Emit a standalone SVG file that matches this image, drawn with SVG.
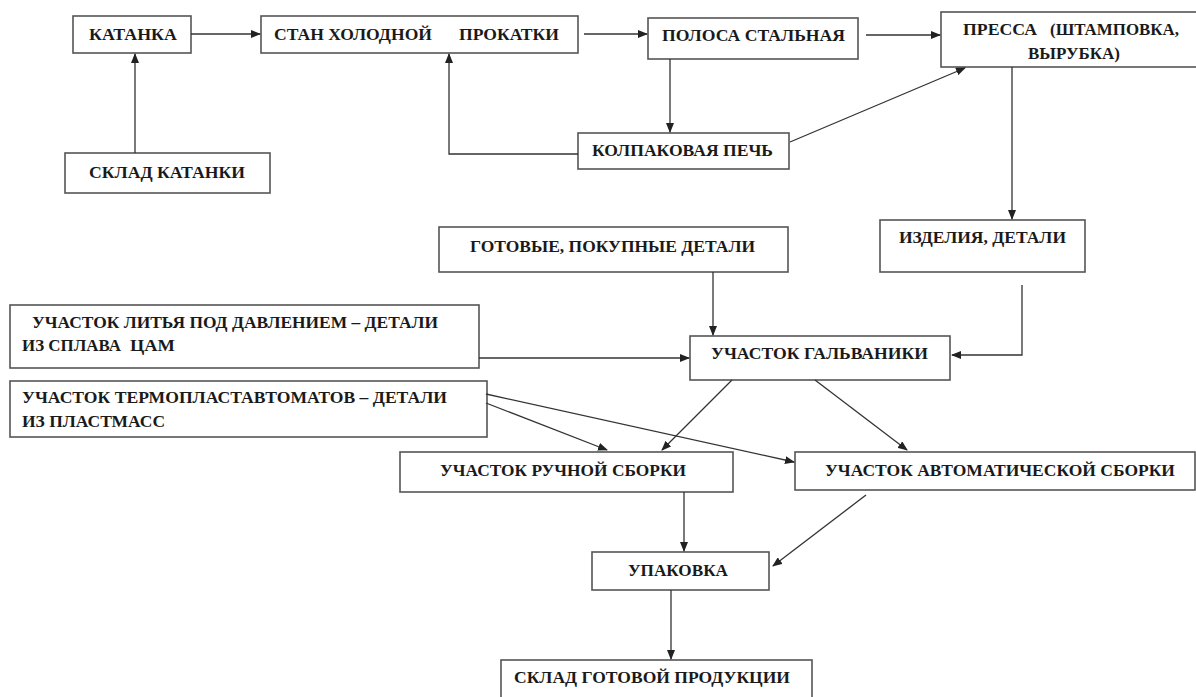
<svg xmlns="http://www.w3.org/2000/svg" width="1196" height="697" viewBox="0 0 1196 697">
<defs>
<marker id="ah" markerWidth="10" markerHeight="8" refX="9" refY="4" orient="auto" markerUnits="userSpaceOnUse">
<path d="M0,0 L10,4 L0,8 Z" fill="#222"/>
</marker>
<style>
.box{fill:#fff;stroke:#555;stroke-width:1.6}
.t{font-family:"Liberation Serif","Times New Roman",serif;font-weight:bold;font-size:17px;fill:#1a1a1a}
.c{fill:none;stroke:#333;stroke-width:1.3;marker-end:url(#ah)}
</style>
</defs>
<rect width="1196" height="697" fill="#fff"/>
<g id="katanka"><rect class="box" x="73" y="16" width="118" height="37"/><text class="t" x="89" y="40" textLength="88" lengthAdjust="spacingAndGlyphs">КАТАНКА</text></g>
<g id="stan"><rect class="box" x="261" y="16" width="317" height="37"/><text class="t" y="40"><tspan x="274" textLength="158" lengthAdjust="spacingAndGlyphs">СТАН ХОЛОДНОЙ</tspan><tspan x="459" textLength="100" lengthAdjust="spacingAndGlyphs">ПРОКАТКИ</tspan></text></g>
<g id="polosa"><rect class="box" x="648" y="18" width="210" height="41"/><text class="t" x="662" y="41" textLength="183" lengthAdjust="spacingAndGlyphs">ПОЛОСА СТАЛЬНАЯ</text></g>
<g id="pressa"><rect class="box" x="941" y="12" width="260" height="55"/><text class="t" y="35"><tspan x="963" textLength="74" lengthAdjust="spacingAndGlyphs">ПРЕССА</tspan><tspan x="1050" textLength="129" lengthAdjust="spacingAndGlyphs">(ШТАМПОВКА,</tspan></text><text class="t" x="1028" y="59" textLength="92" lengthAdjust="spacingAndGlyphs">ВЫРУБКА)</text></g>
<g id="sklad-katanki"><rect class="box" x="65" y="153" width="205" height="40"/><text class="t" x="89" y="178" textLength="156" lengthAdjust="spacingAndGlyphs">СКЛАД КАТАНКИ</text></g>
<g id="kolpak"><rect class="box" x="578" y="133" width="211" height="36"/><text class="t" x="592" y="156" textLength="181" lengthAdjust="spacingAndGlyphs">КОЛПАКОВАЯ ПЕЧЬ</text></g>
<g id="gotovye"><rect class="box" x="439" y="227" width="349" height="45"/><text class="t" x="470" y="252" textLength="285" lengthAdjust="spacingAndGlyphs">ГОТОВЫЕ, ПОКУПНЫЕ ДЕТАЛИ</text></g>
<g id="izdelia"><rect class="box" x="880" y="220" width="205" height="52"/><text class="t" x="899" y="243" textLength="167" lengthAdjust="spacingAndGlyphs">ИЗДЕЛИЯ, ДЕТАЛИ</text></g>
<g id="galvanika"><rect class="box" x="690" y="336" width="260" height="44"/><text class="t" x="711" y="359" textLength="217" lengthAdjust="spacingAndGlyphs">УЧАСТОК ГАЛЬВАНИКИ</text></g>
<g id="litye"><rect class="box" x="10" y="305" width="469" height="63"/><text class="t" x="32" y="328" textLength="406" lengthAdjust="spacingAndGlyphs">УЧАСТОК ЛИТЬЯ ПОД ДАВЛЕНИЕМ – ДЕТАЛИ</text><text class="t" y="351"><tspan x="22" textLength="99" lengthAdjust="spacingAndGlyphs">ИЗ СПЛАВА</tspan><tspan x="130" textLength="45" lengthAdjust="spacingAndGlyphs">ЦАМ</tspan></text></g>
<g id="termoplast"><rect class="box" x="10" y="381" width="477" height="56"/><text class="t" x="22" y="403" textLength="425" lengthAdjust="spacingAndGlyphs">УЧАСТОК ТЕРМОПЛАСТАВТОМАТОВ – ДЕТАЛИ</text><text class="t" x="22" y="427" textLength="143" lengthAdjust="spacingAndGlyphs">ИЗ ПЛАСТМАСС</text></g>
<g id="ruchnaya"><rect class="box" x="400" y="452" width="333" height="40"/><text class="t" x="440" y="476" textLength="246" lengthAdjust="spacingAndGlyphs">УЧАСТОК РУЧНОЙ СБОРКИ</text></g>
<g id="avtomat"><rect class="box" x="795" y="452" width="400" height="38"/><text class="t" x="825" y="476" textLength="350" lengthAdjust="spacingAndGlyphs">УЧАСТОК АВТОМАТИЧЕСКОЙ СБОРКИ</text></g>
<g id="upakovka"><rect class="box" x="592" y="552" width="177" height="38"/><text class="t" x="628" y="576" textLength="100" lengthAdjust="spacingAndGlyphs">УПАКОВКА</text></g>
<g id="sklad-gotovoy"><rect class="box" x="501" y="660" width="311" height="45"/><text class="t" x="514" y="683" textLength="276" lengthAdjust="spacingAndGlyphs">СКЛАД ГОТОВОЙ ПРОДУКЦИИ</text></g>
<g id="connectors">
<path class="c" d="M135,153 V54"/>
<path class="c" d="M191,34 H260"/>
<path class="c" d="M584,34 H647"/>
<path class="c" d="M866,35 H940"/>
<path class="c" d="M670,59 V132"/>
<path class="c" d="M578,154 H449 V54"/>
<path class="c" d="M790,142 L965,68"/>
<path class="c" d="M1012,67 V219"/>
<path class="c" d="M1022,285 V355 H952"/>
<path class="c" d="M713,272 V335"/>
<path class="c" d="M479,358 H689"/>
<path class="c" d="M486,403 L607,450"/>
<path class="c" d="M486,394 L794,462"/>
<path class="c" d="M732,380 L662,450"/>
<path class="c" d="M815,380 L907,450"/>
<path class="c" d="M684,492 V551"/>
<path class="c" d="M866,495 L773,566"/>
<path class="c" d="M671,590 V659"/>
</g>
</svg>
